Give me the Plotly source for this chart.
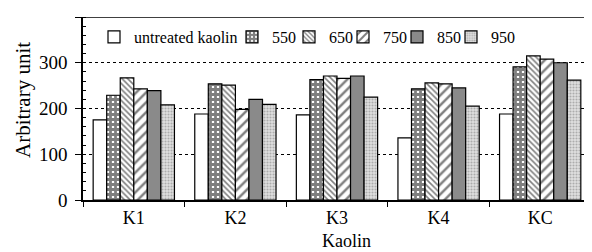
import plotly.graph_objects as go

categories = ["K1", "K2", "K3", "K4", "KC"]
series_names = ["untreated kaolin", "550", "650", "750", "850", "950"]
untreated = [175, 188, 186, 136, 188]
t550 = [229, 254, 263, 243, 291]
t650 = [267, 251, 271, 256, 315]
t750 = [243, 198, 266, 254, 308]
t850 = [239, 220, 271, 245, 300]
t950 = [208, 209, 225, 205, 262]
y_ticks = [0, 100, 200, 300, 400]

values = [untreated, t550, t650, t750, t850, t950]
styles = [
    dict(color="white", pattern=dict(shape="")),
    dict(color="white", pattern=dict(shape="+", fgcolor="black", bgcolor="white", size=5, solidity=0.8)),
    dict(color="white", pattern=dict(shape="\\", fgcolor="black", bgcolor="white", size=4, solidity=0.4)),
    dict(color="white", pattern=dict(shape="/", fgcolor="black", bgcolor="white", size=7, solidity=0.35)),
    dict(color="#8a8a8a", pattern=dict(shape="")),
    dict(color="#cfcfcf", pattern=dict(shape=".", fgcolor="#777777", bgcolor="#e0e0e0", size=3, solidity=0.4)),
]

# page body has an 8px margin: size the figure so it fits the 592x252 window
OFF = 8
W, H = 592 - OFF, 252 - OFF
L, R, T, B = 83 - OFF, 0, 17 - OFF, 52
PW = W - L - R
PH = H - T - B
font_family = "Liberation Serif"


def px_x(sx):
    return (sx - OFF - L) / PW


def px_y(sy):
    return (H - B - (sy - OFF)) / PH


# legend x positions (screen pixels) for each legend entry
legend_px = [94, 232, 289, 343, 397, 451]
legend_ids = ["legend", "legend2", "legend3", "legend4", "legend5", "legend6"]

fig = go.Figure()
for name, vals, st, lid in zip(series_names, values, styles, legend_ids):
    fig.add_trace(go.Bar(
        x=categories, y=vals, name=name, legend=lid,
        marker=dict(color=st["color"], pattern=st["pattern"], line=dict(color="black", width=1.2)),
    ))

legend_cfg = {}
for lid, sx in zip(legend_ids, legend_px):
    legend_cfg[lid] = dict(x=px_x(sx), y=px_y(37), xanchor="left", yanchor="middle",
                           orientation="h", font=dict(size=16, family=font_family, color="black"),
                           itemwidth=30, bgcolor="rgba(0,0,0,0)", borderwidth=0)

fig.update_layout(
    width=W, height=H,
    margin=dict(l=L, r=R, t=T, b=B, autoexpand=False),
    paper_bgcolor="white", plot_bgcolor="white",
    barmode="group", bargap=0.2, bargroupgap=0,
    font=dict(family=font_family, color="black", size=18),
    showlegend=True,
    xaxis=dict(range=[-0.5, 4.51], showline=True, linecolor="black", linewidth=1.5,
               ticks="outside", ticklen=5, tickson="boundaries", tickcolor="black",
               ticklabelstandoff=1, automargin=False,
               tickfont=dict(size=18)),
    yaxis=dict(range=[0, 400], tickvals=y_ticks, showline=True, linecolor="black", linewidth=1.5,
               ticks="outside", ticklen=6, tickcolor="black", ticklabelstandoff=4,
               minor=dict(dtick=20, ticks="inside", ticklen=3, tickcolor="black", showgrid=False),
               showgrid=True, gridcolor="black", griddash="dot", gridwidth=1,
               zeroline=False, automargin=False,
               tickfont=dict(size=19)),
    shapes=[dict(type="line", xref="paper", yref="y", x0=0, x1=1, y0=400, y1=400,
                 line=dict(color="black", width=1.5))],
    annotations=[
        dict(text="Arbitrary unit", textangle=-90, xref="paper", yref="paper",
             x=px_x(23), y=px_y(100), xanchor="center", yanchor="middle",
             showarrow=False, font=dict(size=21, family=font_family, color="black")),
        dict(text="Kaolin", xref="paper", yref="paper",
             x=px_x(346), y=px_y(252), xanchor="center", yanchor="bottom",
             showarrow=False, borderpad=0, font=dict(size=18, family=font_family, color="black")),
    ],
    **legend_cfg,
)

fig.write_html("out.html")
